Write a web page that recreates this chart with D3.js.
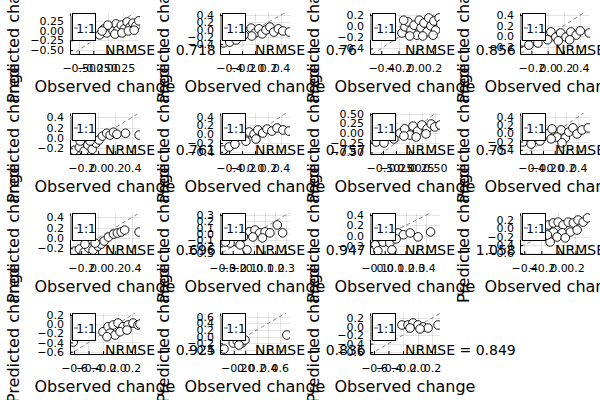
<!DOCTYPE html>
<html><head><meta charset="utf-8">
<script src="https://cdn.jsdelivr.net/npm/d3@7"></script>
<style>
body{margin:0;background:#fff}
svg{display:block}
text{font-family:"DejaVu Sans",sans-serif}
</style>
</head><body>
<svg id="c" width="600" height="400"></svg>
<script>
// ---- data: observed vs predicted change, one pair per subplot ----
const obs1  = [-0.14,-0.07,-0.02,0.04,0.09,0.14,0.17,0.23,0.28,0.33,0.38,0.43,0.48,0.53,0.00,0.12,0.24,0.35,-0.10,0.45];
const pred1 = [-0.11,0.04,-0.06,0.09,-0.01,0.17,0.01,0.14,0.04,0.22,0.09,0.19,0.12,0.25,0.14,-0.09,-0.06,-0.01,-0.01,0.01];
const obs2  = [-0.48,-0.39,-0.29,-0.12,-0.06,0.00,0.06,0.11,0.17,0.23,0.29,0.36,0.43,0.53,-0.05,-0.17];
const pred2 = [-0.37,-0.35,-0.29,-0.07,0.04,-0.10,0.02,-0.12,-0.01,0.07,-0.07,0.02,-0.04,-0.07,-0.18,-0.15];
const obs3  = [-0.16,-0.125,-0.09,-0.055,-0.02,0.015,0.04,0.06,0.095,0.13,0.15,0.175,0.21,0.23,0.27,0.29,-0.07,0.08,0.20,-0.14];
const pred3 = [-0.12,-0.01,0.08,-0.07,0.02,-0.16,0.11,-0.03,0.06,-0.10,0.15,0.005,0.095,-0.07,0.15,0.04,-0.175,-0.175,-0.16,0.11];
const obs4  = [-0.30,-0.23,-0.12,-0.02,0.04,0.10,0.16,0.225,0.285,0.35,0.40,0.51,0.13,0.27,0.00];
const pred4 = [-0.11,-0.17,-0.13,0.00,0.08,-0.02,0.06,-0.02,0.08,0.02,0.10,0.06,-0.09,-0.07,-0.07];
const obs5  = [-0.28,-0.22,-0.165,-0.12,-0.07,-0.025,0.01,0.05,0.10,0.14,0.18,0.22,0.32,0.48,-0.095,-0.21];
const pred5 = [-0.24,-0.18,-0.255,-0.14,-0.22,-0.10,-0.04,0.035,0.09,0.055,0.11,0.07,0.09,0.055,-0.06,-0.06];
const obs6  = [-0.49,-0.40,-0.31,-0.17,-0.09,-0.015,0.045,0.12,0.185,0.26,0.34,0.43,0.525,0.015,-0.14];
const pred6 = [-0.36,-0.29,-0.225,-0.065,0.05,0.00,0.095,0.025,0.115,0.07,0.14,0.095,0.07,-0.11,-0.16];
const obs7  = [-0.63,-0.48,-0.29,-0.17,-0.08,0.02,0.08,0.17,0.25,0.35,0.43,0.50,0.60,0.14,-0.095,0.33];
const pred7 = [-0.23,-0.255,-0.15,0.00,0.11,-0.05,0.18,0.055,0.21,0.11,0.235,0.16,0.21,-0.10,-0.075,-0.02];
const obs8  = [-0.54,-0.40,-0.25,-0.13,-0.045,0.04,0.11,0.18,0.24,0.31,0.38,0.465,0.57,-0.06,0.125];
const pred8 = [-0.21,-0.26,-0.185,-0.015,0.105,-0.09,0.08,-0.11,0.03,0.13,-0.015,0.08,0.13,-0.135,-0.23];
const obs9  = [-0.28,-0.22,-0.165,-0.11,-0.06,0.00,0.035,0.07,0.12,0.18,0.225,0.27,0.31,0.48,-0.035,-0.155];
const pred9 = [-0.255,-0.215,-0.275,-0.197,-0.235,-0.16,-0.12,-0.06,0.016,0.074,0.093,0.113,0.151,0.113,-0.10,-0.12];
const obs10  = [-0.04,0.01,0.055,0.105,0.15,0.22,0.27,-0.10,-0.16,-0.225,-0.27,-0.065,-0.13,-0.01,0.08];
const pred10 = [0.035,0.06,0.015,0.03,0.015,0.14,0.015,-0.05,-0.13,-0.145,-0.13,-0.255,-0.175,-0.05,-0.065];
const obs11  = [-0.09,-0.015,0.05,0.13,0.18,0.245,0.32,0.44,-0.065,0.07,0.11];
const pred11 = [-0.175,-0.12,-0.135,0.055,0.02,0.055,-0.02,0.075,-0.29,-0.27,-0.06];
const obs12  = [-0.12,-0.06,-0.003,0.055,0.115,0.175,0.23,0.29,-0.06,0.044,0.14,0.22,-0.097,-0.015,0.08,-0.13,0.34];
const pred12 = [0.08,0.13,0.15,0.08,0.15,0.13,0.20,0.15,-0.09,-0.11,-0.09,-0.04,-0.33,-0.21,-0.23,-0.16,0.25];
const obs13  = [-0.20,-0.13,-0.06,0.007,0.076,0.145,0.214,0.283,-0.103,-0.034,0.035,0.131,-0.145,0.31,-0.61];
const pred13 = [-0.167,-0.058,-0.021,0.022,-0.058,-0.021,0.022,-0.021,-0.196,-0.24,-0.167,-0.13,-0.276,0.00,-0.39];
const obs14  = [-0.21,-0.14,-0.06,-0.005,-0.11,0.725,-0.37];
const pred14 = [-0.19,-0.13,-0.19,-0.10,-0.25,0.05,-0.37];
const obs15  = [-0.214,-0.131,-0.062,0.007,0.076,0.145,0.283,-0.103,0.035];
const pred15 = [0.038,0.038,0.085,0.038,-0.009,-0.033,0.038,-0.033,-0.056];

const nrmse = ["0.718","0.76","0.856","0.812","0.761","0.757","0.75","0.781","0.696","0.947","1.058","0.903","0.925","0.836","0.849"];

// axis limits per subplot
const xLims = [[-0.65,0.55],[-0.54,0.54],[-0.53,0.28],[-0.34,0.52],
               [-0.33,0.49],[-0.54,0.54],[-0.75,0.60],[-0.59,0.60],
               [-0.33,0.49],[-0.32,0.34],[-0.14,0.53],[-0.45,0.37],
               [-0.655,0.31],[-0.44,0.78],[-0.655,0.31]];
const yLims = [[-0.60,0.45],[-0.68,0.46],[-0.50,0.24],[-0.34,0.44],
               [-0.31,0.48],[-0.45,0.48],[-0.54,0.52],[-0.50,0.49],
               [-0.31,0.48],[-0.32,0.33],[-0.35,0.44],[-0.62,0.37],
               [-0.65,0.24],[-0.52,0.71],[-0.645,0.32]];
// tick values per subplot
const xTickVals = [[-0.5,-0.25,0,0.25],[-0.4,-0.2,0,0.2,0.4],[-0.4,-0.2,0,0.2],[-0.2,0,0.2,0.4],
                   [-0.2,0,0.2,0.4],[-0.4,-0.2,0,0.2,0.4],[-0.5,-0.25,0,0.25,0.5],[-0.4,-0.2,0,0.2,0.4],
                   [-0.2,0,0.2,0.4],[-0.3,-0.2,-0.1,0,0.1,0.2,0.3],[-0.1,0,0.1,0.2,0.3,0.4],[-0.4,-0.2,0,0.2],
                   [-0.6,-0.4,-0.2,0,0.2],[-0.2,0,0.2,0.4,0.6],[-0.6,-0.4,-0.2,0,0.2]];
const yTickVals = [[-0.5,-0.25,0,0.25],[-0.4,-0.2,0,0.2,0.4],[-0.4,-0.2,0,0.2],[-0.2,0,0.2,0.4],
                   [-0.2,0,0.2,0.4],[-0.4,-0.2,0,0.2,0.4],[-0.5,-0.25,0,0.25,0.5],[-0.4,-0.2,0,0.2,0.4],
                   [-0.2,0,0.2,0.4],[-0.3,-0.2,-0.1,0,0.1,0.2,0.3],[-0.2,0,0.2,0.4],[-0.6,-0.4,-0.2,0,0.2],
                   [-0.6,-0.4,-0.2,0,0.2],[-0.4,-0.2,0,0.2,0.4,0.6],[-0.6,-0.4,-0.2,0,0.2]];
const tickDigits = [2,1,1,1, 1,1,2,1, 1,1,1,1, 1,1,1];
const xLabel = "Observed change";
const yLabel = "Predicted change";
const legendLabel = "1:1";

const series = [[obs1,pred1],[obs2,pred2],[obs3,pred3],[obs4,pred4],
                [obs5,pred5],[obs6,pred6],[obs7,pred7],[obs8,pred8],
                [obs9,pred9],[obs10,pred10],[obs11,pred11],[obs12,pred12],
                [obs13,pred13],[obs14,pred14],[obs15,pred15]];

const svg = d3.select("#c");
const defs = svg.append("defs");

series.forEach(([ob, pr], i) => {
  const col = i % 4, row = Math.floor(i / 4);
  const ox = col * 150, oy = row * 100;
  const L = ox + 70, R = ox + 140, T = oy + 13, B = oy + 54;
  const x = d3.scaleLinear().domain(xLims[i]).range([L, R]);
  const y = d3.scaleLinear().domain(yLims[i]).range([B, T]);
  const dg = tickDigits[i];
  const fmt = d => (d < 0 ? "\u2212" : "") + Math.abs(d).toFixed(dg);
  const g = svg.append("g");

  defs.append("clipPath").attr("id", "clip" + i)
    .append("rect").attr("x", L).attr("y", T).attr("width", R - L).attr("height", B - T);

  // grid
  g.append("g").selectAll("line").data(xTickVals[i]).join("line")
    .attr("x1", d => Math.round(x(d)) + 0.5).attr("x2", d => Math.round(x(d)) + 0.5)
    .attr("y1", T).attr("y2", B).attr("stroke", "#000").attr("stroke-opacity", 0.1);
  g.append("g").selectAll("line").data(yTickVals[i]).join("line")
    .attr("y1", d => Math.round(y(d)) + 0.5).attr("y2", d => Math.round(y(d)) + 0.5)
    .attr("x1", L).attr("x2", R).attr("stroke", "#000").attr("stroke-opacity", 0.1);

  const plot = g.append("g").attr("clip-path", "url(#clip" + i + ")");
  // 1:1 reference line
  const lo = Math.min(xLims[i][0], yLims[i][0]) - 1, hi = Math.max(xLims[i][1], yLims[i][1]) + 1;
  plot.append("line")
    .attr("x1", x(lo)).attr("y1", y(lo)).attr("x2", x(hi)).attr("y2", y(hi))
    .attr("stroke", "#888").attr("stroke-width", 1).attr("stroke-dasharray", "4,3");
  // points
  plot.selectAll("circle").data(ob.map((v, k) => [v, pr[k]])).join("circle")
    .attr("cx", d => x(d[0])).attr("cy", d => y(d[1])).attr("r", 4.3)
    .attr("fill", "#fff").attr("stroke", "#000").attr("stroke-width", 0.9);

  // axes
  const ax = g.append("g").attr("transform", `translate(0,${B})`)
    .call(d3.axisBottom(x).tickValues(xTickVals[i]).tickFormat(fmt).tickSize(-3).tickSizeOuter(0).tickPadding(10));
  const ay = g.append("g").attr("transform", `translate(${L},0)`)
    .call(d3.axisLeft(y).tickValues(yTickVals[i]).tickFormat(fmt).tickSize(-3).tickSizeOuter(0).tickPadding(6));
  [ax, ay].forEach(a => {
    a.attr("font-family", "DejaVu Sans, sans-serif").attr("font-size", 11);
    a.selectAll("text").attr("fill", "#000");
    a.selectAll("line").attr("stroke", "#000");
    a.select(".domain").attr("stroke", "#000");
  });

  // legend
  g.append("rect").attr("x", L).attr("y", T + 3).attr("width", 2).attr("height", 24).attr("fill", "#999");
  g.append("rect").attr("x", L + 2.5).attr("y", T + 0.5).attr("width", 23).attr("height", 27)
    .attr("fill", "#fff").attr("stroke", "#000").attr("stroke-width", 1);
  g.append("line").attr("x1", L + 4).attr("x2", L + 8).attr("y1", T + 15).attr("y2", T + 15)
    .attr("stroke", "#555").attr("stroke-width", 1);
  g.append("text").attr("x", L + 16).attr("y", T + 19.5).attr("text-anchor", "middle")
    .attr("font-size", 12).text(legendLabel);

  // guide labels
  g.append("text").attr("x", (L + R) / 2).attr("y", oy + 92).attr("text-anchor", "middle")
    .attr("font-size", 16).text(xLabel);
  g.append("text").attr("transform", `translate(${ox + 19},${(T + B) / 2}) rotate(-90)`)
    .attr("text-anchor", "middle").attr("font-size", 16).text(yLabel);

  // annotation
  g.append("text").attr("x", (L + R) / 2).attr("y", B + 1).attr("font-size", 14)
    .text("NRMSE = " + nrmse[i]);
});
</script>
</body></html>
